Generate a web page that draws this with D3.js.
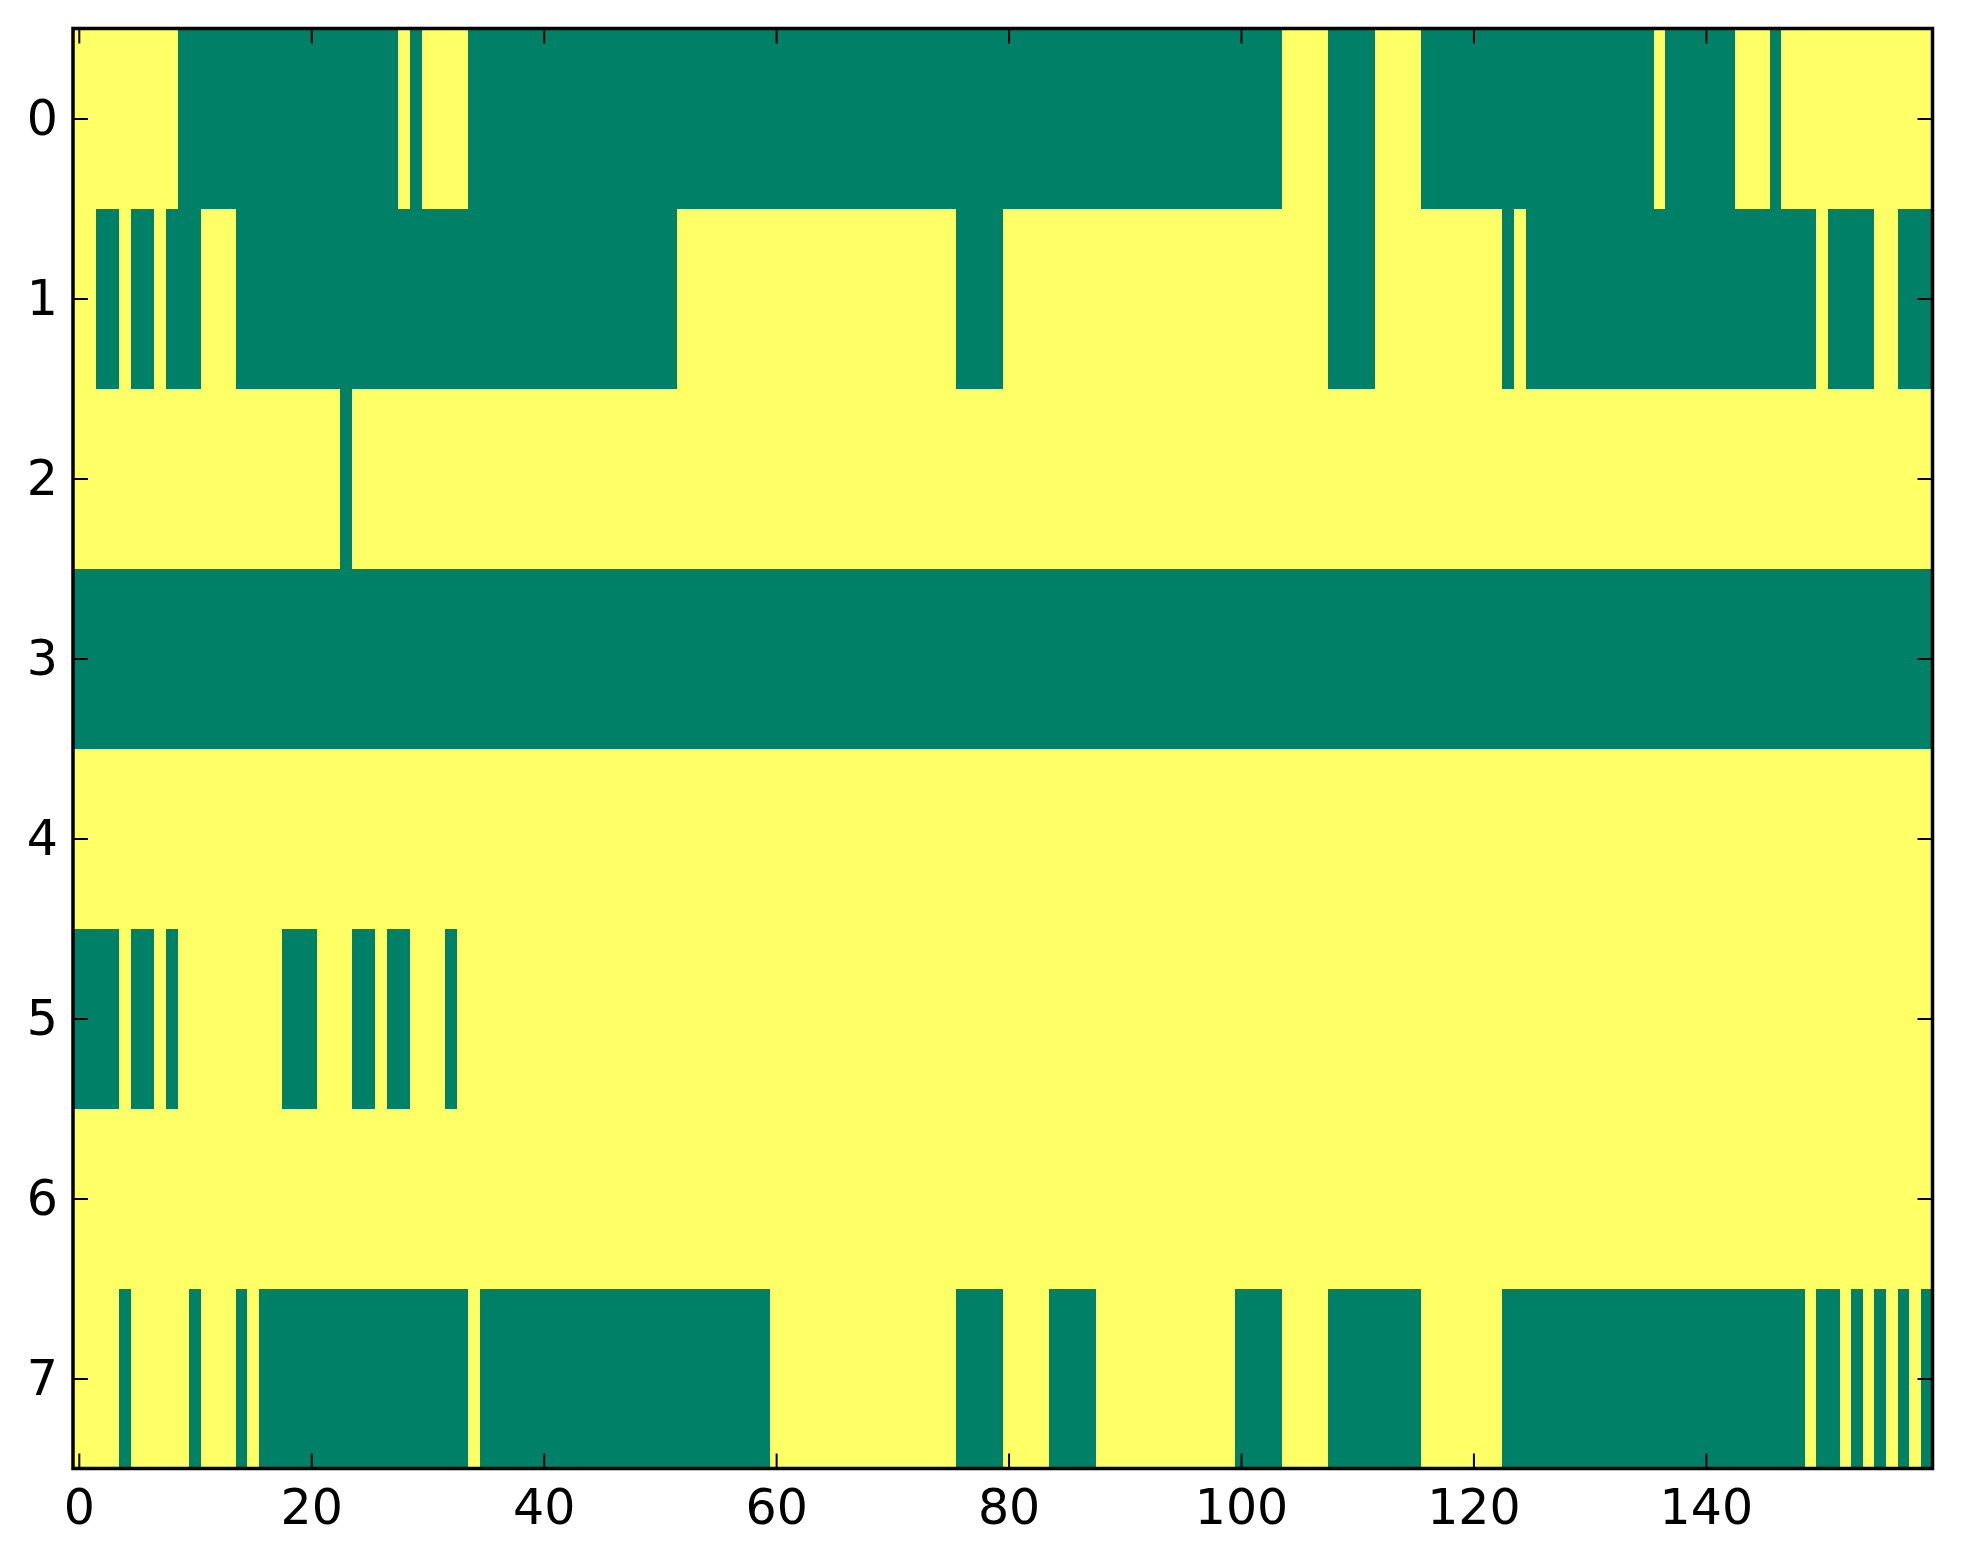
<!DOCTYPE html>
<html>
<head>
<meta charset="utf-8">
<script src="https://cdn.jsdelivr.net/npm/d3@7"></script>
<style>
  html, body { margin: 0; padding: 0; background: #fff; }
  .tick text { font-family: "DejaVu Sans", sans-serif; }
</style>
</head>
<body>
<div id="chart-area"></div>
<script>
// Cell values, one array per image row (0 = low / green, 1 = high / yellow)
const row0 = [
  1,1,1,1,1,1,1,1,1,0, 0,0,0,0,0,0,0,0,0,0,
  0,0,0,0,0,0,0,0,1,0, 1,1,1,1,0,0,0,0,0,0,
  0,0,0,0,0,0,0,0,0,0, 0,0,0,0,0,0,0,0,0,0,
  0,0,0,0,0,0,0,0,0,0, 0,0,0,0,0,0,0,0,0,0,
  0,0,0,0,0,0,0,0,0,0, 0,0,0,0,0,0,0,0,0,0,
  0,0,0,0,1,1,1,1,0,0, 0,0,1,1,1,1,0,0,0,0,
  0,0,0,0,0,0,0,0,0,0, 0,0,0,0,0,0,1,0,0,0,
  0,0,0,1,1,1,0,1,1,1, 1,1,1,1,1,1,1,1,1,1
];
const row1 = [
  1,1,0,0,1,0,0,1,0,0, 0,1,1,1,0,0,0,0,0,0,
  0,0,0,0,0,0,0,0,0,0, 0,0,0,0,0,0,0,0,0,0,
  0,0,0,0,0,0,0,0,0,0, 0,0,1,1,1,1,1,1,1,1,
  1,1,1,1,1,1,1,1,1,1, 1,1,1,1,1,1,0,0,0,0,
  1,1,1,1,1,1,1,1,1,1, 1,1,1,1,1,1,1,1,1,1,
  1,1,1,1,1,1,1,1,0,0, 0,0,1,1,1,1,1,1,1,1,
  1,1,1,0,1,0,0,0,0,0, 0,0,0,0,0,0,0,0,0,0,
  0,0,0,0,0,0,0,0,0,0, 1,0,0,0,0,1,1,0,0,0
];
const row2 = [
  1,1,1,1,1,1,1,1,1,1, 1,1,1,1,1,1,1,1,1,1,
  1,1,1,0,1,1,1,1,1,1, 1,1,1,1,1,1,1,1,1,1,
  1,1,1,1,1,1,1,1,1,1, 1,1,1,1,1,1,1,1,1,1,
  1,1,1,1,1,1,1,1,1,1, 1,1,1,1,1,1,1,1,1,1,
  1,1,1,1,1,1,1,1,1,1, 1,1,1,1,1,1,1,1,1,1,
  1,1,1,1,1,1,1,1,1,1, 1,1,1,1,1,1,1,1,1,1,
  1,1,1,1,1,1,1,1,1,1, 1,1,1,1,1,1,1,1,1,1,
  1,1,1,1,1,1,1,1,1,1, 1,1,1,1,1,1,1,1,1,1
];
const row3 = [
  0,0,0,0,0,0,0,0,0,0, 0,0,0,0,0,0,0,0,0,0,
  0,0,0,0,0,0,0,0,0,0, 0,0,0,0,0,0,0,0,0,0,
  0,0,0,0,0,0,0,0,0,0, 0,0,0,0,0,0,0,0,0,0,
  0,0,0,0,0,0,0,0,0,0, 0,0,0,0,0,0,0,0,0,0,
  0,0,0,0,0,0,0,0,0,0, 0,0,0,0,0,0,0,0,0,0,
  0,0,0,0,0,0,0,0,0,0, 0,0,0,0,0,0,0,0,0,0,
  0,0,0,0,0,0,0,0,0,0, 0,0,0,0,0,0,0,0,0,0,
  0,0,0,0,0,0,0,0,0,0, 0,0,0,0,0,0,0,0,0,0
];
const row4 = [
  1,1,1,1,1,1,1,1,1,1, 1,1,1,1,1,1,1,1,1,1,
  1,1,1,1,1,1,1,1,1,1, 1,1,1,1,1,1,1,1,1,1,
  1,1,1,1,1,1,1,1,1,1, 1,1,1,1,1,1,1,1,1,1,
  1,1,1,1,1,1,1,1,1,1, 1,1,1,1,1,1,1,1,1,1,
  1,1,1,1,1,1,1,1,1,1, 1,1,1,1,1,1,1,1,1,1,
  1,1,1,1,1,1,1,1,1,1, 1,1,1,1,1,1,1,1,1,1,
  1,1,1,1,1,1,1,1,1,1, 1,1,1,1,1,1,1,1,1,1,
  1,1,1,1,1,1,1,1,1,1, 1,1,1,1,1,1,1,1,1,1
];
const row5 = [
  0,0,0,0,1,0,0,1,0,1, 1,1,1,1,1,1,1,1,0,0,
  0,1,1,1,0,0,1,0,0,1, 1,1,0,1,1,1,1,1,1,1,
  1,1,1,1,1,1,1,1,1,1, 1,1,1,1,1,1,1,1,1,1,
  1,1,1,1,1,1,1,1,1,1, 1,1,1,1,1,1,1,1,1,1,
  1,1,1,1,1,1,1,1,1,1, 1,1,1,1,1,1,1,1,1,1,
  1,1,1,1,1,1,1,1,1,1, 1,1,1,1,1,1,1,1,1,1,
  1,1,1,1,1,1,1,1,1,1, 1,1,1,1,1,1,1,1,1,1,
  1,1,1,1,1,1,1,1,1,1, 1,1,1,1,1,1,1,1,1,1
];
const row6 = [
  1,1,1,1,1,1,1,1,1,1, 1,1,1,1,1,1,1,1,1,1,
  1,1,1,1,1,1,1,1,1,1, 1,1,1,1,1,1,1,1,1,1,
  1,1,1,1,1,1,1,1,1,1, 1,1,1,1,1,1,1,1,1,1,
  1,1,1,1,1,1,1,1,1,1, 1,1,1,1,1,1,1,1,1,1,
  1,1,1,1,1,1,1,1,1,1, 1,1,1,1,1,1,1,1,1,1,
  1,1,1,1,1,1,1,1,1,1, 1,1,1,1,1,1,1,1,1,1,
  1,1,1,1,1,1,1,1,1,1, 1,1,1,1,1,1,1,1,1,1,
  1,1,1,1,1,1,1,1,1,1, 1,1,1,1,1,1,1,1,1,1
];
const row7 = [
  1,1,1,1,0,1,1,1,1,1, 0,1,1,1,0,1,0,0,0,0,
  0,0,0,0,0,0,0,0,0,0, 0,0,0,0,1,0,0,0,0,0,
  0,0,0,0,0,0,0,0,0,0, 0,0,0,0,0,0,0,0,0,0,
  1,1,1,1,1,1,1,1,1,1, 1,1,1,1,1,1,0,0,0,0,
  1,1,1,1,0,0,0,0,1,1, 1,1,1,1,1,1,1,1,1,1,
  0,0,0,0,1,1,1,1,0,0, 0,0,0,0,0,0,1,1,1,1,
  1,1,1,0,0,0,0,0,0,0, 0,0,0,0,0,0,0,0,0,0,
  0,0,0,0,0,0,0,0,0,1, 0,0,1,0,1,0,1,0,1,0
];
const rows = [row0, row1, row2, row3, row4, row5, row6, row7];

// Tick positions / labels
const xTicks = [0, 20, 40, 60, 80, 100, 120, 140];
const yTicks = [0, 1, 2, 3, 4, 5, 6, 7];

(function () {
  // Figure and axes box
  const W = 1963, H = 1564;
  const margin = { top: 28.5, right: 30.5, bottom: 95.5, left: 73 };
  const width = W - margin.left - margin.right;
  const height = H - margin.top - margin.bottom;

  const svg = d3.select("#chart-area")
    .append("svg")
    .attr("width", W)
    .attr("height", H);

  const g = svg.append("g")
    .attr("transform", `translate(${margin.left},${margin.top})`);

  const nCols = rows[0].length;
  const nRows = rows.length;

  // Pixel-edge extents like imshow: -0.5 .. n-0.5
  const xScale = d3.scaleLinear().domain([-0.5, nCols - 0.5]).range([0, width]);
  const yScale = d3.scaleLinear().domain([-0.5, nRows - 0.5]).range([0, height]);

  // "summer" colormap endpoints
  const color = d3.scaleLinear().domain([0, 1]).range(["#008066", "#ffff66"]);

  const cells = [];
  rows.forEach((r, i) => r.forEach((v, j) => cells.push({ i, j, v })));

  g.append("g")
    .attr("shape-rendering", "crispEdges")
    .selectAll("rect")
    .data(cells)
    .enter()
    .append("rect")
    .attr("x", (d) => xScale(d.j - 0.5))
    .attr("y", (d) => yScale(d.i - 0.5))
    .attr("width", (d) => xScale(d.j + 0.5) - xScale(d.j - 0.5) + 0.6)
    .attr("height", (d) => yScale(d.i + 0.5) - yScale(d.i - 0.5) + 0.6)
    .attr("fill", (d) => color(d.v));

  // Axes, ticks pointing inward (classic style)
  const tickLen = 15;
  const fontSize = 49;

  function styleAxis(sel) {
    sel.select(".domain").remove();
    sel.selectAll(".tick line").attr("stroke", "#000").attr("stroke-width", 2);
    sel.selectAll(".tick text")
      .attr("fill", "#000")
      .style("font-size", fontSize + "px");
  }

  g.append("g")
    .attr("transform", `translate(0,${height})`)
    .call(d3.axisBottom(xScale).tickValues(xTicks).tickSizeInner(-tickLen).tickSizeOuter(0).tickPadding(21))
    .call(styleAxis);

  g.append("g")
    .call(d3.axisTop(xScale).tickValues(xTicks).tickSizeInner(-tickLen).tickSizeOuter(0).tickFormat(""))
    .call(styleAxis);

  g.append("g")
    .call(d3.axisLeft(yScale).tickValues(yTicks).tickSizeInner(-tickLen).tickSizeOuter(0).tickPadding(15))
    .call(styleAxis);

  g.append("g")
    .attr("transform", `translate(${width},0)`)
    .call(d3.axisRight(yScale).tickValues(yTicks).tickSizeInner(-tickLen).tickSizeOuter(0).tickFormat(""))
    .call(styleAxis);

  // Frame
  g.append("rect")
    .attr("x", 0)
    .attr("y", 0)
    .attr("width", width)
    .attr("height", height)
    .attr("fill", "none")
    .attr("stroke", "#000")
    .attr("stroke-width", 3.5);
})();
</script>
</body>
</html>
